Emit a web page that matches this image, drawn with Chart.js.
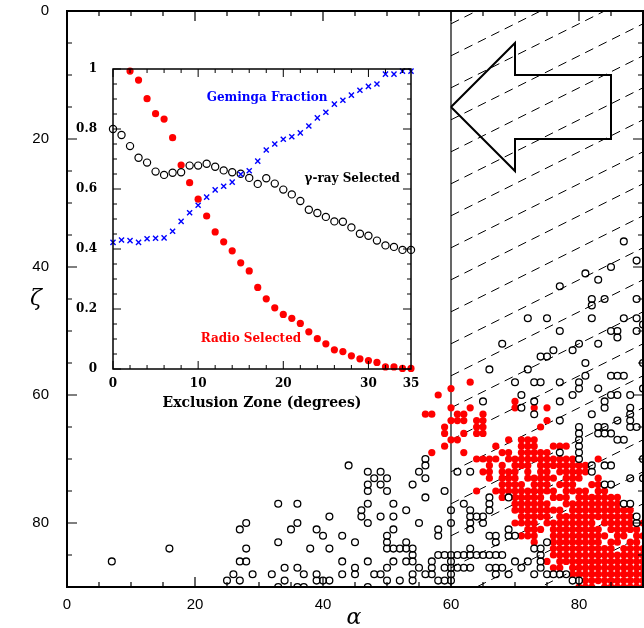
<!DOCTYPE html>
<html>
<head>
<meta charset="utf-8">
<script src="https://cdn.jsdelivr.net/npm/chart.js@4.4.1/dist/chart.umd.min.js"></script>
<style>
  html, body { margin: 0; padding: 0; background: #fff; }
  #wrap { position: relative; width: 644px; height: 628px; }
  #main { position: absolute; left: 0; top: 0; }
  #inset { position: absolute; left: 70px; top: 55px; }
</style>
</head>
<body>
<div id="wrap">
  <canvas id="main" width="644" height="628"></canvas>
  <canvas id="inset" width="350" height="365"></canvas>
</div>
<script>
// ---- main panel: magnetic inclination alpha vs viewing angle zeta, one row per zeta ----
// radio selected pulsars  [zeta, [alpha, ...]]
const radioRows = [
  [58, [63]],
  [59, [60]],
  [60, [58]],
  [61, [70]],
  [62, [60, 63, 70, 73, 75]],
  [63, [56, 57, 61, 62, 65]],
  [64, [60, 61, 62, 64, 65, 75]],
  [65, [59, 64, 65, 74]],
  [66, [59, 62, 64, 65]],
  [67, [60, 61, 69, 71, 72, 73]],
  [68, [59, 67, 71, 72, 73, 76, 77, 78]],
  [69, [57, 62, 68, 69, 71, 72, 73, 74, 75]],
  [70, [64, 65, 66, 67, 69, 70, 71, 72, 73, 74, 75, 76, 77, 78, 79, 83]],
  [71, [66, 68, 70, 71, 72, 74, 75, 76, 77, 78, 79, 80, 81]],
  [72, [65, 66, 68, 69, 70, 72, 74, 75, 77, 78, 79, 80, 81]],
  [73, [66, 68, 69, 70, 72, 73, 74, 75, 76, 78, 79, 80, 83]],
  [74, [68, 69, 70, 71, 73, 74, 75, 77, 78, 79, 82, 83]],
  [75, [64, 67, 68, 69, 70, 71, 72, 73, 74, 75, 76, 78, 79, 80, 81, 83, 84]],
  [76, [68, 70, 71, 72, 73, 74, 76, 77, 78, 80, 81, 82, 83, 84, 85, 86]],
  [77, [70, 71, 72, 73, 74, 75, 78, 79, 80, 81, 82, 83, 84, 85, 86]],
  [78, [70, 71, 72, 73, 74, 75, 76, 77, 79, 80, 81, 82, 83, 84, 85, 86, 87, 88]],
  [79, [71, 72, 73, 74, 75, 77, 78, 79, 80, 81, 82, 83, 84, 85, 86, 87, 88]],
  [80, [70, 71, 72, 73, 75, 76, 77, 78, 79, 80, 81, 82, 84, 85, 86, 87, 88, 90]],
  [81, [72, 73, 74, 76, 77, 78, 79, 80, 81, 82, 83, 85, 86, 87, 88, 89]],
  [82, [71, 72, 73, 76, 77, 78, 79, 80, 81, 82, 83, 84, 86, 87, 89, 90]],
  [83, [73, 76, 77, 78, 79, 80, 81, 82, 83, 85, 86, 88, 89]],
  [84, [76, 77, 78, 79, 80, 81, 82, 83, 84, 85, 87, 88, 89, 90]],
  [85, [76, 77, 78, 79, 80, 81, 82, 83, 84, 85, 86, 87, 88, 89, 90]],
  [86, [75, 77, 78, 79, 80, 81, 82, 83, 84, 85, 86, 87, 88, 89, 90]],
  [87, [76, 77, 79, 80, 81, 82, 83, 84, 85, 86, 87, 88, 89, 90]],
  [88, [79, 80, 81, 82, 83, 84, 85, 86, 87, 88, 89, 90]],
  [89, [81, 82, 83, 84, 85, 86, 87, 88, 89, 90]],
  [90, [80, 81, 82, 84, 85, 86, 87, 88, 89, 90]]
];

// gamma-ray selected pulsars  [zeta, [alpha, ...]]
const gammaRows = [
  [36, [87]],
  [39, [89]],
  [40, [85]],
  [41, [81]],
  [42, [83]],
  [43, [77]],
  [45, [82, 84, 89]],
  [46, [82]],
  [48, [72, 75, 82, 87, 89]],
  [49, [90]],
  [50, [77, 85, 86, 89]],
  [51, [86]],
  [52, [68, 80, 83]],
  [53, [76, 79]],
  [54, [74, 75]],
  [55, [81, 90]],
  [56, [66, 72]],
  [57, [81, 85, 86, 87]],
  [58, [70, 73, 74, 77, 80]],
  [59, [80, 83, 90]],
  [60, [71, 79, 85, 86, 88]],
  [61, [65, 73, 77, 84]],
  [62, [71, 84, 88]],
  [63, [73, 82, 88]],
  [64, [77, 86, 88]],
  [65, [80, 83, 84, 88, 89]],
  [66, [80, 83, 84, 85]],
  [67, [80, 86, 87]],
  [68, [80]],
  [69, [77, 80]],
  [70, [56, 80, 90]],
  [71, [44, 56, 82, 84, 85]],
  [72, [47, 49, 55, 61, 63, 82]],
  [73, [48, 50, 56, 88, 90]],
  [74, [47, 49, 54, 84, 85]],
  [75, [47, 50, 59]],
  [76, [56, 66, 69]],
  [77, [33, 36, 47, 51, 62, 66, 87, 88]],
  [78, [46, 53, 60, 63, 66]],
  [79, [41, 46, 49, 51, 63, 64, 65, 89]],
  [80, [28, 36, 47, 55, 60, 63, 65, 89]],
  [81, [27, 35, 39, 51, 58, 63, 69]],
  [82, [40, 43, 50, 58, 66, 67, 69, 70]],
  [83, [33, 45, 50, 53, 67, 75]],
  [84, [16, 28, 38, 41, 50, 51, 52, 53, 54, 63, 73, 74]],
  [85, [54, 58, 59, 60, 61, 62, 63, 64, 65, 66, 67, 68, 74]],
  [86, [7, 27, 28, 43, 47, 51, 53, 54, 57, 60, 70, 72, 74]],
  [87, [34, 36, 45, 50, 55, 57, 59, 60, 61, 62, 63, 66, 67, 68, 71, 74]],
  [88, [26, 29, 32, 37, 39, 43, 45, 48, 49, 54, 56, 57, 60, 67, 69, 73, 75, 76, 77, 78]],
  [89, [25, 27, 34, 39, 40, 41, 50, 52, 54, 58, 59, 60, 79, 80]],
  [90, [33, 36, 37, 47]]
];

// outline of the arrow pointing into the excluded band (alpha, zeta)
const arrowAlpha = [60, 70, 70, 85, 85, 70, 70, 60];
const arrowZeta  = [15, 5, 10, 10, 20, 20, 25, 15];

const alphaTicks = [0, 20, 40, 60, 80];
const zetaTicks = [0, 20, 40, 60, 80];
const exclusionEdge = 60;

// ---- inset: fractions against size of the exclusion zone ----
const zoneDeg = [0, 1, 2, 3, 4, 5, 6, 7, 8, 9, 10, 11, 12, 13, 14, 15, 16, 17,
  18, 19, 20, 21, 22, 23, 24, 25, 26, 27, 28, 29, 30, 31, 32, 33, 34, 35];
const radioFrac = [null, null, 0.993, 0.963, 0.901, 0.851, 0.833, 0.771, 0.68, 0.621,
  0.566, 0.51, 0.457, 0.424, 0.394, 0.354, 0.327, 0.272, 0.234, 0.204, 0.182, 0.169,
  0.152, 0.124, 0.101, 0.084, 0.064, 0.058, 0.044, 0.034, 0.028, 0.022, 0.007, 0.007,
  0.002, 0.002];
const gammaFrac = [0.8, 0.78, 0.743, 0.704, 0.688, 0.658, 0.647, 0.654, 0.656, 0.678,
  0.678, 0.684, 0.674, 0.662, 0.656, 0.651, 0.637, 0.617, 0.636, 0.618, 0.598, 0.582,
  0.56, 0.531, 0.52, 0.507, 0.492, 0.491, 0.472, 0.451, 0.444, 0.428, 0.412, 0.407,
  0.397, 0.397];
const gemingaFrac = [0.422, 0.43, 0.428, 0.422, 0.434, 0.436, 0.437, 0.459, 0.492,
  0.521, 0.546, 0.573, 0.597, 0.609, 0.623, 0.649, 0.661, 0.693, 0.73, 0.75, 0.766,
  0.774, 0.787, 0.81, 0.837, 0.856, 0.883, 0.896, 0.913, 0.929, 0.942, 0.95, 0.983,
  0.983, 0.993, 0.993];

const rowsToPoints = rows => rows.flatMap(([z, list]) => list.map(a => ({ x: a, y: z })));
const seriesPoints = vals => vals.map((v, i) => ({ x: zoneDeg[i], y: v })).filter(p => p.y !== null);

// keep Chart.js from growing the plot margins for edge tick labels
const noEdgePad = s => { s.paddingTop = 0; s.paddingBottom = 0; s.paddingLeft = 0; s.paddingRight = 0; };

// inward tick marks and a box round the plot area
const frameTicks = {
  id: 'frameTicks',
  afterDatasetsDraw(chart, args, opts) {
    const { ctx, chartArea: a, scales: { x, y } } = chart;
    ctx.save();
    ctx.strokeStyle = '#000';
    ctx.lineWidth = opts.tickWidth;
    const eps = 1e-6;
    for (let v = x.min; v <= x.max + eps; v += opts.xMinor) {
      const px = x.getPixelForValue(v);
      const big = Math.abs(v / opts.xMajor - Math.round(v / opts.xMajor)) < eps;
      const len = big ? opts.major : opts.minor;
      ctx.beginPath();
      ctx.moveTo(px, a.bottom); ctx.lineTo(px, a.bottom - len);
      ctx.moveTo(px, a.top); ctx.lineTo(px, a.top + len);
      ctx.stroke();
    }
    for (let v = y.min; v <= y.max + eps; v += opts.yMinor) {
      const py = y.getPixelForValue(v);
      const big = Math.abs(v / opts.yMajor - Math.round(v / opts.yMajor)) < eps;
      const len = big ? opts.major : opts.minor;
      ctx.beginPath();
      ctx.moveTo(a.left, py); ctx.lineTo(a.left + len, py);
      ctx.moveTo(a.right, py); ctx.lineTo(a.right - len, py);
      ctx.stroke();
    }
    ctx.lineWidth = opts.boxWidth;
    ctx.strokeRect(a.left, a.top, a.right - a.left, a.bottom - a.top);
    ctx.restore();
  }
};

// dashed diagonal hatching over the excluded band, plus its left edge
const hatchBand = {
  id: 'hatchBand',
  beforeDatasetsDraw(chart) {
    const { ctx, chartArea: a, scales: { x, y } } = chart;
    const x0 = x.getPixelForValue(exclusionEdge);
    const gap = y.getPixelForValue(5) - y.getPixelForValue(0);
    const slope = 0.5;
    ctx.save();
    ctx.beginPath();
    ctx.rect(x0, a.top, a.right - x0, a.bottom - a.top);
    ctx.clip();
    ctx.strokeStyle = '#000';
    ctx.lineWidth = 1;
    ctx.setLineDash([9, 6]);
    const start = y.getPixelForValue(2);
    for (let k = -12; k <= 40; k++) {
      const y0 = start + k * gap;
      ctx.beginPath();
      ctx.moveTo(x0, y0);
      ctx.lineTo(a.right, y0 - (a.right - x0) * slope);
      ctx.stroke();
    }
    ctx.restore();
    ctx.save();
    ctx.strokeStyle = '#000';
    ctx.lineWidth = 1.2;
    ctx.beginPath();
    ctx.moveTo(x0, a.top); ctx.lineTo(x0, a.bottom);
    ctx.stroke();
    ctx.restore();
  }
};

// axis symbols alpha and zeta
const axisSymbols = {
  id: 'axisSymbols',
  afterDraw(chart) {
    const { ctx, chartArea: a } = chart;
    ctx.save();
    ctx.fillStyle = '#000';
    ctx.font = 'italic 22px "DejaVu Serif"';
    ctx.textAlign = 'center';
    ctx.textBaseline = 'middle';
    ctx.fillText('α', (a.left + a.right) / 2 - 1, 618);
    ctx.fillText('ζ', 36, (a.top + a.bottom) / 2);
    ctx.restore();
  }
};

// curve labels in the inset, placed in data units
const insetLabels = [
  { text: 'Geminga Fraction', x: 18.1, y: 0.903, color: '#0000ff' },
  { text: 'γ-ray Selected', x: 28.1, y: 0.633, color: '#000000' },
  { text: 'Radio Selected', x: 16.2, y: 0.1, color: '#ff0000' }
];
const curveLabels = {
  id: 'curveLabels',
  afterDatasetsDraw(chart) {
    const { ctx, scales: { x, y } } = chart;
    ctx.save();
    ctx.font = 'bold 12px "DejaVu Serif"';
    ctx.textAlign = 'center';
    ctx.textBaseline = 'middle';
    insetLabels.forEach(l => {
      ctx.fillStyle = l.color;
      ctx.fillText(l.text, x.getPixelForValue(l.x), y.getPixelForValue(l.y));
    });
    ctx.restore();
  }
};

new Chart(document.getElementById('main'), {
  type: 'scatter',
  data: {
    datasets: [
      {
        type: 'line',
        data: arrowAlpha.map((a, i) => ({ x: a, y: arrowZeta[i] })),
        borderColor: '#000',
        borderWidth: 2,
        pointRadius: 0,
        fill: false,
        tension: 0,
        order: 0
      },
      {
        data: rowsToPoints(gammaRows),
        pointRadius: 3.4,
        backgroundColor: 'rgba(0,0,0,0)',
        borderColor: '#000',
        borderWidth: 1.3,
        clip: 0,
        order: 1
      },
      {
        data: rowsToPoints(radioRows),
        pointRadius: 3.6,
        backgroundColor: '#ff0000',
        borderColor: '#ff0000',
        borderWidth: 0,
        clip: 0,
        order: 2
      }
    ]
  },
  options: {
    responsive: false,
    animation: false,
    events: [],
    layout: { autoPadding: false, padding: { top: 11, right: 1, left: 0, bottom: 0 } },
    plugins: {
      legend: { display: false },
      tooltip: { enabled: false },
      frameTicks: { xMajor: 20, xMinor: 5, yMajor: 20, yMinor: 5, major: 10, minor: 5, tickWidth: 1.2, boxWidth: 2 }
    },
    scales: {
      x: {
        type: 'linear', min: 0, max: 90,
        afterBuildTicks: s => { s.ticks = alphaTicks.map(v => ({ value: v })); },
        ticks: { color: '#000', font: { family: 'Liberation Sans', size: 15 }, padding: 1, maxRotation: 0 },
        grid: { display: false },
        border: { display: false },
        afterFit: s => { s.height = 41; noEdgePad(s); }
      },
      y: {
        type: 'linear', min: 0, max: 90, reverse: true,
        afterBuildTicks: s => { s.ticks = zetaTicks.map(v => ({ value: v })); },
        ticks: { color: '#000', font: { family: 'Liberation Sans', size: 15 }, padding: 10 },
        grid: { display: false },
        border: { display: false },
        afterFit: s => { s.width = 67; noEdgePad(s); }
      }
    }
  },
  plugins: [hatchBand, frameTicks, axisSymbols]
});

new Chart(document.getElementById('inset'), {
  type: 'scatter',
  data: {
    datasets: [
      {
        data: seriesPoints(gemingaFrac),
        pointStyle: 'crossRot',
        pointRadius: 3.6,
        borderColor: '#0000ff',
        borderWidth: 1.4,
        clip: false
      },
      {
        data: seriesPoints(gammaFrac),
        pointRadius: 3.6,
        backgroundColor: 'rgba(0,0,0,0)',
        borderColor: '#000',
        borderWidth: 1.2,
        clip: false
      },
      {
        data: seriesPoints(radioFrac),
        pointRadius: 3.6,
        backgroundColor: '#ff0000',
        borderColor: '#ff0000',
        borderWidth: 0,
        clip: false
      }
    ]
  },
  options: {
    responsive: false,
    animation: false,
    events: [],
    layout: { autoPadding: false, padding: { top: 14, right: 9, left: 0, bottom: 0 } },
    plugins: {
      legend: { display: false },
      tooltip: { enabled: false },
      frameTicks: { xMajor: 10, xMinor: 2, yMajor: 0.2, yMinor: 0.05, major: 8, minor: 4, tickWidth: 1, boxWidth: 1.5 }
    },
    scales: {
      x: {
        type: 'linear', min: 0, max: 35,
        ticks: { stepSize: 10, color: '#000', font: { family: 'DejaVu Serif', size: 12, weight: 'bold' }, padding: 0, maxRotation: 0 },
        grid: { display: false },
        border: { display: false },
        title: { display: true, text: 'Exclusion Zone (degrees)', color: '#000', font: { family: 'DejaVu Serif', size: 14, weight: 'bold' }, padding: { top: 0, bottom: 8 } },
        afterFit: s => { s.height = 51; noEdgePad(s); }
      },
      y: {
        type: 'linear', min: 0, max: 1,
        ticks: { stepSize: 0.2, color: '#000', font: { family: 'DejaVu Serif', size: 12, weight: 'bold' }, padding: 8,
          callback: v => String(Math.round(v * 10) / 10) },
        grid: { display: false },
        border: { display: false },
        afterFit: s => { s.width = 43; noEdgePad(s); }
      }
    }
  },
  plugins: [frameTicks, curveLabels]
});
</script>
</body>
</html>
